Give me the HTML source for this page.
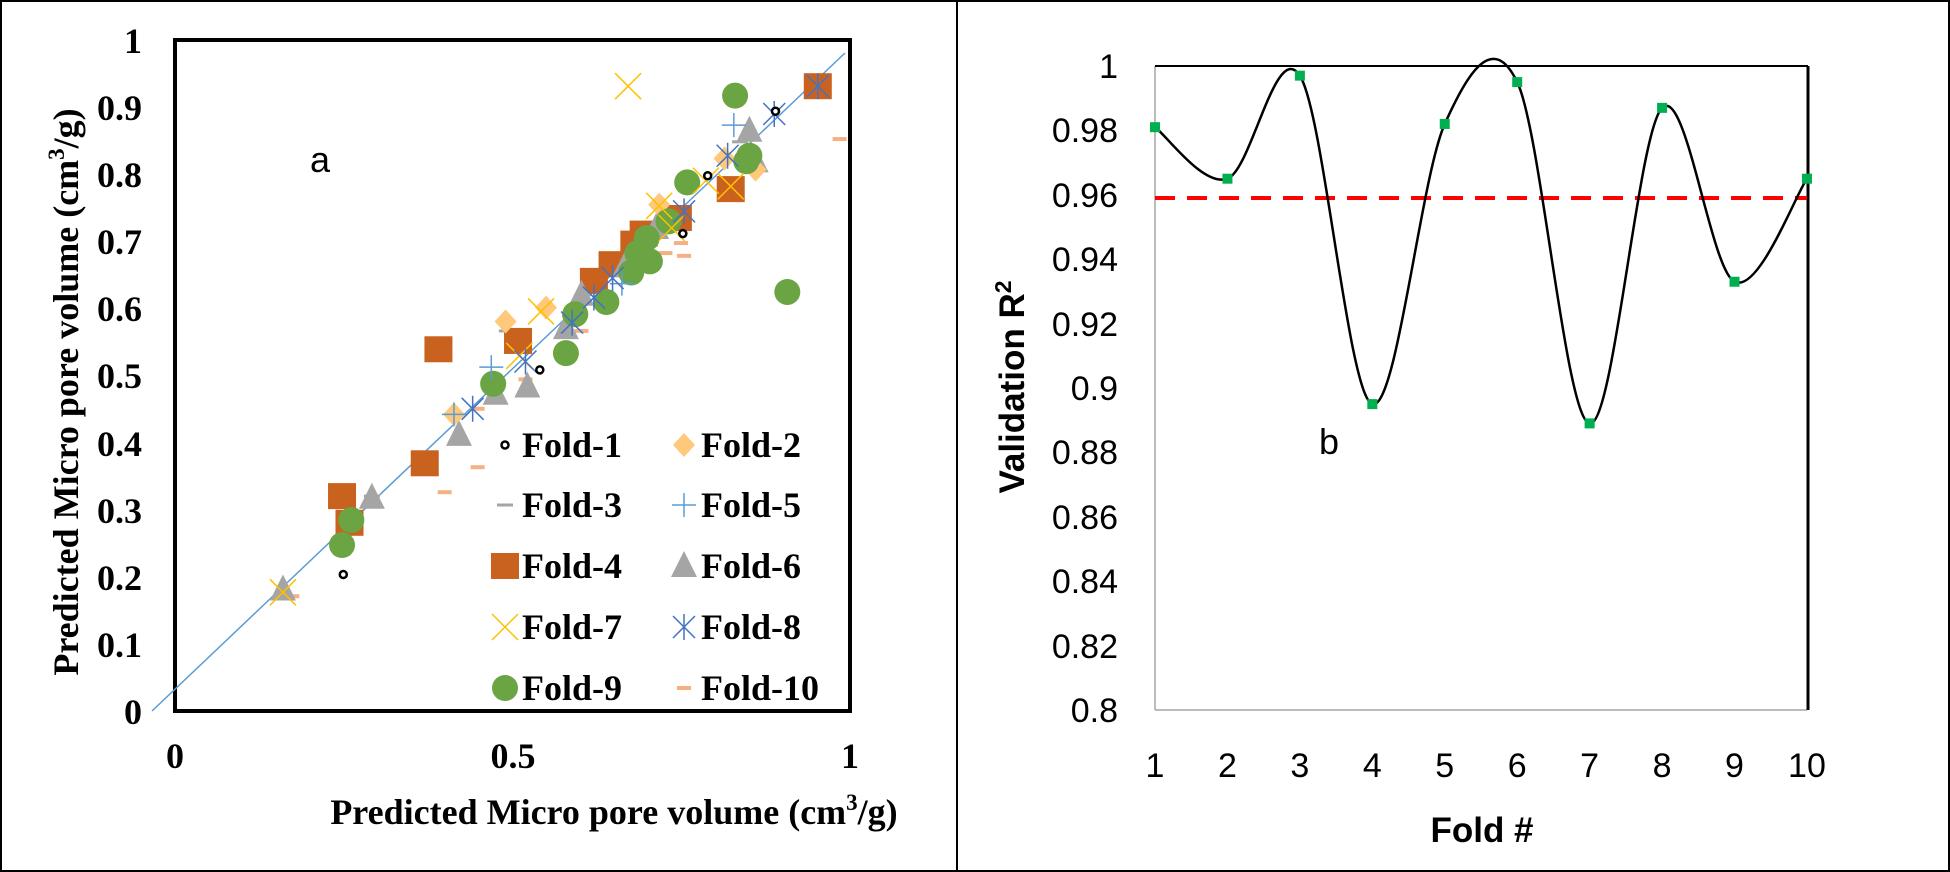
<!DOCTYPE html>
<html><head><meta charset="utf-8"><style>
body{margin:0;background:#fff}
svg{display:block}
.s{font-family:"Liberation Serif",serif;font-weight:bold;font-size:36px;fill:#000}
.n{font-family:"Liberation Sans",sans-serif;font-size:34px;fill:#000}
</style></head><body>
<svg id="c" width="1950" height="872" xmlns="http://www.w3.org/2000/svg">
<rect x="1" y="1" width="1948" height="870" fill="#fff" stroke="#000" stroke-width="2"/>
<line x1="957" y1="0" x2="957" y2="872" stroke="#000" stroke-width="2"/>
<rect x="175" y="40" width="675" height="671" fill="none" stroke="#000" stroke-width="4"/>
<line x1="152" y1="711" x2="845" y2="53" stroke="#5b9bd5" stroke-width="1.5"/>
<g class="s" text-anchor="end">
<text x="142" y="53">1</text><text x="142" y="120">0.9</text><text x="142" y="187">0.8</text>
<text x="142" y="254">0.7</text><text x="142" y="321">0.6</text><text x="142" y="388">0.5</text>
<text x="142" y="456">0.4</text><text x="142" y="523">0.3</text><text x="142" y="590">0.2</text>
<text x="142" y="657">0.1</text><text x="142" y="724">0</text>
</g>
<g class="s" text-anchor="middle">
<text x="175" y="768">0</text><text x="513" y="768">0.5</text><text x="850" y="768">1</text>
<text x="614" y="824">Predicted Micro pore volume (cm<tspan font-size="23" dy="-14">3</tspan><tspan dy="14">/g)</tspan></text>
<text transform="translate(78,392) rotate(-90)">Predicted Micro pore volume (cm<tspan font-size="23" dy="-14">3</tspan><tspan dy="14">/g)</tspan></text>
</g>
<text x="310" y="172" font-family="Liberation Sans,sans-serif" font-size="36">a</text>
<g id="pts"></g>
<g class="s">
<text x="522" y="457">Fold-1</text><text x="701" y="457">Fold-2</text>
<text x="522" y="517">Fold-3</text><text x="701" y="517">Fold-5</text>
<text x="522" y="578">Fold-4</text><text x="701" y="578">Fold-6</text>
<text x="522" y="639">Fold-7</text><text x="701" y="639">Fold-8</text>
<text x="522" y="700">Fold-9</text><text x="701" y="700">Fold-10</text>
</g>
<line x1="1155" y1="66" x2="1155" y2="710" stroke="#bbb" stroke-width="2"/>
<line x1="1155" y1="710" x2="1807" y2="710" stroke="#bbb" stroke-width="2"/>
<line x1="1155" y1="66" x2="1808" y2="66" stroke="#000" stroke-width="2"/>
<line x1="1808" y1="66" x2="1808" y2="710" stroke="#000" stroke-width="3"/>
<g class="n" text-anchor="end">
<text x="1118" y="78">1</text><text x="1118" y="142">0.98</text><text x="1118" y="207">0.96</text>
<text x="1118" y="271">0.94</text><text x="1118" y="336">0.92</text><text x="1118" y="400">0.9</text>
<text x="1118" y="464">0.88</text><text x="1118" y="529">0.86</text><text x="1118" y="593">0.84</text>
<text x="1118" y="658">0.82</text><text x="1118" y="722">0.8</text>
</g>
<g class="n" text-anchor="middle" id="xt"></g>
<text x="1482" y="842" text-anchor="middle" font-family="Liberation Sans,sans-serif" font-weight="bold" font-size="35">Fold #</text>
<text transform="translate(1024,387) rotate(-90)" text-anchor="middle" font-family="Liberation Sans,sans-serif" font-weight="bold" font-size="35">Validation R<tspan font-size="23" dy="-13">2</tspan></text>
<text x="1319" y="454" font-family="Liberation Sans,sans-serif" font-size="36">b</text>
<line x1="1155" y1="198" x2="1807" y2="198" stroke="#f00" stroke-width="4" stroke-dasharray="20,12"/>
<path id="curve" fill="none" stroke="#000" stroke-width="2.5"/>
<g id="rp"></g>
</svg>
<script>
var NS="http://www.w3.org/2000/svg";
function el(t,a,p){var e=document.createElementNS(NS,t);for(var k in a)e.setAttribute(k,a[k]);(p||document.getElementById('pts')).appendChild(e);return e;}
var X=function(z){return z/1.608},Y=function(z){return z/1.798};
function sq(x,y){el('rect',{x:x-14,y:y-13,width:28,height:26,fill:'#c9621f'});}
function ci(x,y){el('circle',{cx:x,cy:y,r:13,fill:'#6aa443'});}
function tri(x,y){el('polygon',{points:(x)+','+(y-15)+' '+(x-13)+','+(y+11)+' '+(x+13)+','+(y+11),fill:'#a5a5a5'});}
function xx(x,y){el('path',{d:'M'+(x-13)+' '+(y-13)+'L'+(x+13)+' '+(y+13)+'M'+(x+13)+' '+(y-13)+'L'+(x-13)+' '+(y+13),stroke:'#ffc000',fill:'none','stroke-width':1.5});}
function ast(x,y){el('path',{d:'M'+(x-11)+' '+(y-11)+'L'+(x+11)+' '+(y+11)+'M'+(x+11)+' '+(y-11)+'L'+(x-11)+' '+(y+11)+'M'+x+' '+(y-13)+'L'+x+' '+(y+13),stroke:'#4472c4',fill:'none','stroke-width':1.5});}
function pl(x,y){el('path',{d:'M'+(x-12)+' '+y+'L'+(x+12)+' '+y+'M'+x+' '+(y-12)+'L'+x+' '+(y+12),stroke:'#5b9bd5',fill:'none','stroke-width':1.5});}
function di(x,y){el('polygon',{points:x+','+(y-12)+' '+(x+11)+','+y+' '+x+','+(y+12)+' '+(x-11)+','+y,fill:'#ffc87a'});}
function dot(x,y){el('circle',{cx:x,cy:y,r:3.5,fill:'#fff',stroke:'#000','stroke-width':2.5});}
function d10(x,y){el('rect',{x:x-7,y:y-2,width:14,height:4,fill:'#f4b183'});}
function d3(x,y){el('rect',{x:x-8,y:y-1.5,width:16,height:3,fill:'#a5a5a5'});}
var sets=[[d10,[[1350,250],[715,885],[768,840],[470,1072],[845,682],[800,700],[768,735],[915,568],[935,595],[1045,465],[1095,437],[1070,455],[1100,460]]],
[d3,[[598,892],[1190,255],[815,595]]],
[sq,[[705,628],[550,892],[562,940],[683,833],[833,613],[1035,420],[1090,392],[985,475],[955,505],[1175,340],[1315,155],[1020,438]]],
[tri,[[455,1060],[598,895],[738,782],[797,708],[848,695],[935,530],[910,590],[1205,235],[1215,290],[1055,410],[1005,478]]],
[di,[[813,578],[878,553],[1060,368],[1165,285],[1215,305],[730,745]]],
[ci,[[1182,172],[1266,525],[1105,328],[1205,280],[1075,398],[1040,428],[1015,490],[1045,470],[975,543],[925,565],[910,635],[793,690],[565,935],[550,980],[1200,290],[1025,455]]],
[xx,[[1010,155],[455,1065],[1175,335],[1060,370],[835,640],[870,560],[1135,325],[1080,410]]],
[pl,[[790,660],[1180,225],[730,745],[1000,510]]],
[ast,[[760,735],[845,650],[1245,205],[1315,155],[1170,280],[1100,380],[985,500],[955,535],[920,580]]],
[dot,[[552,1033],[868,665],[1138,316],[1247,200],[1098,420]]]];
sets.forEach(function(s){s[1].forEach(function(p){s[0](X(p[0]),Y(p[1]));});});
dot(505,445);d3(505,505);sq(505,566);xx(505,627);ci(505,688);
di(684,445);pl(684,505);tri(684,566);ast(684,627);d10(684,688);
var v=[0.981,0.965,0.997,0.895,0.982,0.995,0.889,0.987,0.933,0.965];
var P=v.map(function(a,i){return [1155+i*72.44,710-(a-0.8)/0.2*644];});
var xt=document.getElementById('xt');
for(var i=0;i<10;i++){var t=el('text',{x:P[i][0],y:777},xt);t.textContent=i+1;}
var d='M'+P[0][0]+' '+P[0][1];
for(var i=0;i<9;i++){var p0=P[Math.max(0,i-1)],p1=P[i],p2=P[i+1],p3=P[Math.min(9,i+2)];
d+=' C'+(p1[0]+(p2[0]-p0[0])/6)+' '+(p1[1]+(p2[1]-p0[1])/6)+' '+(p2[0]-(p3[0]-p1[0])/6)+' '+(p2[1]-(p3[1]-p1[1])/6)+' '+p2[0]+' '+p2[1];}
document.getElementById('curve').setAttribute('d',d);
var rp=document.getElementById('rp');
P.forEach(function(p){el('rect',{x:p[0]-5,y:p[1]-5,width:10,height:10,fill:'#00b050'},rp);});
</script>
</body></html>
